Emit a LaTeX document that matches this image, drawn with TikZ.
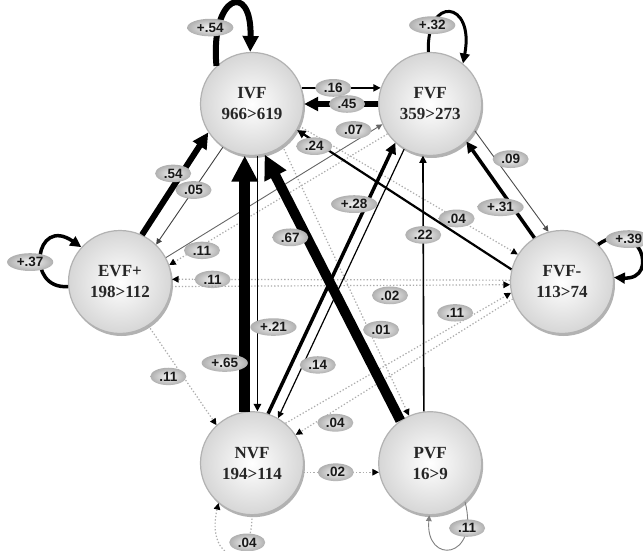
\documentclass[tikz,border=0pt]{standalone}
\usepackage{fontspec}
\setmainfont{Liberation Serif}
\newfontfamily\lblfont{Liberation Sans}
\usetikzlibrary{arrows.meta, positioning, shapes.geometric, shadows}
\tikzstyle{vf} = [circle, draw=gray!60, line width=1.2pt, minimum size=103pt, inner sep=0pt,
  inner color=white, outer color=gray!32, text=black!85, align=center,
  font=\fontsize{17}{21}\selectfont\bfseries,
  drop shadow={shadow xshift=1.5pt, shadow yshift=-2.5pt, opacity=.3, fill=black}]
\tikzstyle{lbl} = [ellipse, inner xsep=3pt, inner ysep=1.5pt, minimum width=36pt, minimum height=17pt,
  inner color=gray!8, outer color=gray!62, text=black!90, font=\lblfont\bfseries\fontsize{13.5}{13.5}\selectfont]
\tikzstyle{weak} = [gray!65, line width=1.2pt, dash pattern=on 1.3pt off 2pt,
  -{Triangle[length=6.5pt, width=6.5pt, color=black]}]
\tikzset{flow/.style={line width=#1, -{Triangle[length=4pt 2, width=4pt 1.9]}}}

\begin{document}
\begin{tikzpicture}[x=1pt, y=-1pt]
    \path[use as bounding box, fill=white] (0,0) rectangle (643,551);
    % states
    \node[vf] (ivf) at (252,104) {IVF\\966>619};
    \node[vf, right=74pt of ivf] (fvf) {FVF\\359>273};
    \node[vf] (evfp) at (120,282) {EVF+\\198>112};
    \node[vf] (fvfm) at (562,282) {FVF-\\113>74};
    \node[vf, below=255pt of ivf] (nvf) {NVF\\194>114};
    \node[vf, right=74pt of nvf] (pvf) {PVF\\16>9};
    % weak transitions
    \draw[weak] (fvf.215) -- node[lbl, pos=.85, yshift=-5pt] {.11} (evfp.19);
    \draw[weak] (fvfm.178) -- node[lbl, pos=.88] {.11} (evfp.3);
    \draw[weak] (evfp.-5) -- node[lbl, pos=.645, yshift=-10pt] {.02} (fvfm.183);
    \draw[weak] (nvf.50) -- node[lbl, pos=.77, xshift=-4pt, yshift=10pt] {.11} (fvfm.192);
    \draw[weak] (fvfm.199) -- node[lbl, pos=.845, xshift=6pt, yshift=-9pt] {.04} (nvf.33);
    \draw[weak] (ivf.-25) -- node[lbl, pos=.72] {.04} (fvfm.148);
    \draw[weak] (evfp.-57) -- node[lbl, pos=.44, xshift=-10pt, yshift=-7pt] {.11} (nvf.133);
    \draw[weak] (ivf.-54) -- node[lbl, pos=.7, xshift=10pt, yshift=5pt] {.01} (pvf.114);
    \draw[weak] (nvf.-10) -- node[lbl, pos=.43] {.02} (pvf.190);
    \draw[weak] (nvf.-90) .. controls (252,575) and (205,560) .. (nvf.-130) node[lbl, pos=.2] {.04};
    % minor transitions
    \draw[flow=.9pt, black!75] (ivf.236) -- node[lbl, pos=.44] {.05} (evfp.46);
    \draw[flow=.9pt, black!60] (evfp.28) -- node[lbl, pos=.89, xshift=-5pt, yshift=9pt] {.07} (fvf.203);
    \draw[flow=.9pt, black!70] (fvf.-31) -- node[lbl, pos=.35, xshift=10pt, yshift=7pt] {.09} (fvfm.105);
    \draw[flow=.9pt, gray] (pvf.-48) .. controls (480,560) and (425,565) .. (pvf.-91) node[lbl, pos=.18] {.11};
    \draw[flow=1.2pt] (fvf.240) -- node[lbl, pos=.78, xshift=12pt, yshift=-6pt] {.14} (nvf.60.5);
    \draw[flow=1.6pt] (ivf.18) -- node[lbl, pos=.4] {.16} (fvf.162);
    \draw[flow=1.6pt] (pvf.97) -- node[lbl, pos=.69] {.22} (fvf.262);
    \draw[flow=1.8pt] (ivf.-84.5) -- node[lbl, pos=.67, xshift=16pt] {+.21} (nvf.84.5);
    \draw[flow=2.2pt] (fvfm.166) -- node[lbl, pos=.92, yshift=-5pt] {.24} (ivf.-30);
    % strong transitions
    \draw[flow=3.5pt] (fvfm.122) -- node[lbl, pos=.38, xshift=-8pt, yshift=-6pt] {+.31} (fvf.-46);
    \draw[flow=3.5pt] (nvf.72) -- node[lbl, pos=.755, xshift=-10pt, yshift=5pt] {+.28} (fvf.228.5);
    \draw[flow=5pt] (fvf.180) -- node[lbl, pos=.42] {.45} (ivf.0);
    \draw[flow=6pt] (evfp.65) -- node[lbl, pos=.56, xshift=-6pt, yshift=4pt] {.54} (ivf.213);
    \draw[flow=10pt] (pvf.125) -- node[lbl, pos=.715, xshift=-13pt, yshift=-7pt] {.67} (ivf.-76);
    \draw[flow=11pt] (nvf.98) -- node[lbl, pos=.19, xshift=-20pt] {+.65} (ivf.-98);
    % self loops
    \draw[flow=6pt] (ivf.133) .. controls (210,-5) and (252,-20) .. (ivf.92) node[lbl, pos=.22, xshift=-8pt] {+.54};
    \draw[flow=3pt] (fvf.92) .. controls (426,-5) and (475,0) .. (fvf.51) node[lbl, pos=.2] {+.32};
    \draw[flow=3.5pt] (evfp.185) .. controls (25,290) and (35,215) .. (evfp.138) node[lbl, pos=.5, xshift=-11pt, yshift=-6pt] {+.37};
    \draw[flow=3.5pt] (fvfm.46) .. controls (640,215) and (660,280) .. (fvfm.5) node[lbl, pos=.3] {+.39};
  \end{tikzpicture}
\end{document}
